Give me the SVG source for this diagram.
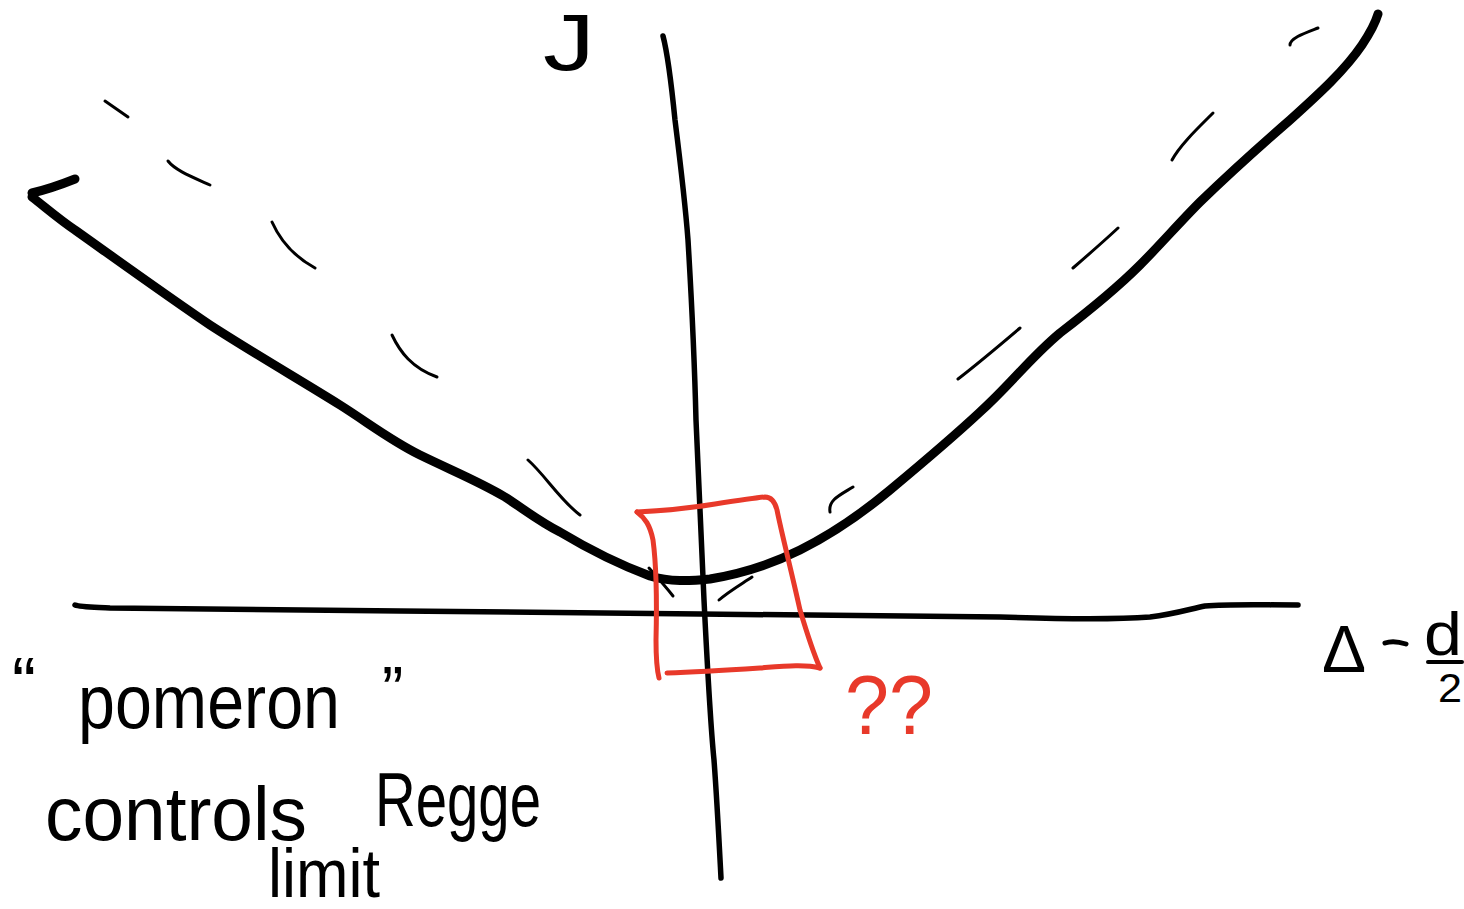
<svg xmlns="http://www.w3.org/2000/svg" width="1464" height="909" viewBox="0 0 1464 909">
<style>
.ink{fill:none;stroke:#000;stroke-linecap:round;stroke-linejoin:round}
.thick{stroke-width:9}
.axis{stroke-width:5.5}
.dash{stroke-width:3}
.red{fill:none;stroke:#e8392a;stroke-width:5;stroke-linecap:round;stroke-linejoin:round}
.t{font-family:"Liberation Sans",Arial,sans-serif;fill:#000}
.tr{font-family:"Liberation Sans",Arial,sans-serif;fill:#e8392a}
</style>
<rect width="1464" height="909" fill="#fff"/>
<g id="axes">
<path class="ink axis" d="M663,36 C668,55 672,90 675,120 C680,160 685,200 688,240 C691,290 694,340 696,420 C699,500 702,560 704,600 C707,660 710,720 714,760 C717,800 719,840 721,878"/>
<path class="ink axis" d="M75,605 C80,607 90,607 110,608 L400,611 L700,614 L1000,617 C1060,619 1110,620 1150,617 C1175,614 1190,609 1205,606 C1230,604 1260,605 1298,605"/>
</g>
<g id="trajectory">
<path class="ink thick" d="M32,193 C45,190 60,185 75,179"/>
<path class="ink thick" d="M32,197 C45,207 60,220 75,230 C120,262 170,298 210,325 C250,351 300,380 340,405 C370,424 390,440 420,455 C455,472 480,482 505,497 C525,510 540,522 560,532 C590,550 615,563 650,576 C670,582 690,581 710,579 C740,574 770,565 800,550 C830,535 860,515 890,490 C920,465 950,440 980,412 C1010,385 1030,358 1060,333 C1090,310 1115,290 1140,265 C1160,245 1180,222 1200,202 C1230,173 1260,146 1290,120 C1320,93 1345,70 1362,45 C1370,33 1375,24 1378,14"/>
</g>
<g id="dashed-trajectory">
<path class="ink dash" d="M105,101 L128,117"/>
<path class="ink dash" d="M168,161 C175,170 190,176 210,185"/>
<path class="ink dash" d="M272,222 C280,240 295,257 315,268"/>
<path class="ink dash" d="M392,335 C400,352 412,368 437,377"/>
<path class="ink dash" d="M528,460 C545,475 560,500 580,515"/>
<path class="ink dash" d="M649,568 C658,578 666,587 673,596"/>
<path class="ink dash" d="M719,600 C728,592 740,585 752,577"/>
<path class="ink dash" d="M830,512 C828,500 840,495 853,487"/>
<path class="ink dash" d="M958,379 C980,362 1000,345 1020,328"/>
<path class="ink dash" d="M1073,268 C1088,255 1103,242 1118,228"/>
<path class="ink dash" d="M1172,160 C1180,145 1198,128 1213,113"/>
<path class="ink dash" d="M1290,45 C1290,38 1305,33 1318,28"/>
</g>
<g id="question-box">
<path class="red" d="M637,512 C660,511 690,508 715,504 C735,501 755,498 765,497 C772,497 775,502 777,510 C782,535 790,565 800,610 C806,630 812,650 820,668"/>
<path class="red" d="M637,512 C645,518 650,525 653,540 C657,570 657,600 656,640 C656,660 657,670 659,678"/>
<path class="red" d="M667,673 C700,672 730,670 760,668 C785,666 805,664 820,668"/>
<text class="tr" x="845" y="734" font-size="84" textLength="88" lengthAdjust="spacingAndGlyphs">??</text>
</g>
<g id="label-J">
<text class="t" x="543" y="70" font-size="80" textLength="52" lengthAdjust="spacingAndGlyphs">J</text>
</g>
<g id="label-x">
<text class="t" x="1322" y="672" font-size="66">Δ</text>
<path class="ink" stroke-width="5" d="M1385,643 C1393,640 1400,642 1406,644"/>
<text class="t" x="1424" y="655" font-size="62" textLength="38" lengthAdjust="spacingAndGlyphs">d</text>
<path class="ink" stroke-width="4" d="M1428,662 L1462,662"/>
<text class="t" x="1438" y="702" font-size="40" textLength="24" lengthAdjust="spacingAndGlyphs">2</text>
</g>
<g id="caption">
<text class="t" x="12" y="708" font-size="72">“</text>
<text class="t" x="78" y="728" font-size="76" textLength="262" lengthAdjust="spacingAndGlyphs">pomeron</text>
<text class="t" x="382" y="712" font-size="64">”</text>
<text class="t" x="45" y="840" font-size="76" textLength="262" lengthAdjust="spacingAndGlyphs">controls</text>
<text class="t" x="375" y="826" font-size="76" textLength="166" lengthAdjust="spacingAndGlyphs">Regge</text>
<text class="t" x="268" y="897" font-size="68" textLength="112" lengthAdjust="spacingAndGlyphs">limit</text>
</g>
</svg>
